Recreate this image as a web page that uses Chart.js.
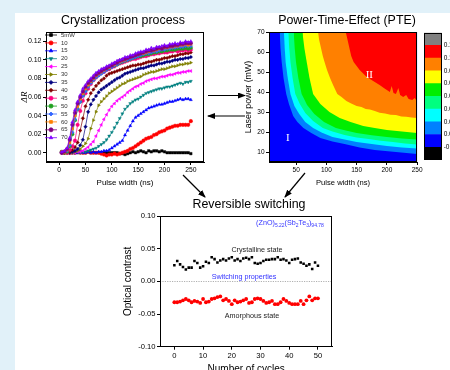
<!DOCTYPE html>
<html>
<head>
<meta charset="utf-8">
<script src="https://cdn.jsdelivr.net/npm/chart.js@4.4.0/dist/chart.umd.min.js"></script>
<style>
  html, body { margin: 0; padding: 0; width: 450px; height: 370px; overflow: hidden; background: #e1f1f9; }
  #panel { position: absolute; left: 15px; top: 13px; width: 435px; height: 357px; background: #fff; }
  canvas { position: absolute; }
  .t { position: absolute; font-family: "Liberation Sans", Arial, sans-serif; white-space: nowrap; transform: translate(-50%, -50%); line-height: 1; }
  .title { font-size: 12.4px; color: #000; }
  .note { font-size: 7.2px; color: #222; }
  .blue { color: #3333ff; }
  sub { font-size: 5px; vertical-align: -2px; }
  svg { position: absolute; left: 0; top: 0; pointer-events: none; }
</style>
</head>
<body>
<div id="panel"></div>
<canvas id="crystal" width="215" height="195" style="left:0;top:0"></canvas>
<canvas id="pte" width="209" height="195" style="left:215px;top:0"></canvas>
<canvas id="cbar" width="32" height="195" style="left:418px;top:0"></canvas>
<canvas id="switching" width="250" height="190" style="left:100px;top:195px"></canvas>

<div class="t title" style="left:123px;top:20px">Crystallization process</div>
<div class="t title" style="left:347px;top:20px">Power-Time-Effect (PTE)</div>
<div class="t title" style="left:249px;top:204px">Reversible switching</div>
<div class="t note blue" style="left:290px;top:223px">(ZnO)<sub>5.22</sub>(Sb<sub>2</sub>Te<sub>3</sub>)<sub>94.78</sub></div>
<div class="t note" style="left:257px;top:250px">Crystalline state</div>
<div class="t note blue" style="left:244px;top:277px">Switching properties</div>
<div class="t note" style="left:252px;top:316px">Amorphous state</div>

<svg width="450" height="370">
  <defs>
    <marker id="head" markerWidth="8" markerHeight="6" refX="7" refY="3" orient="auto" markerUnits="userSpaceOnUse">
      <path d="M0,0 L8,3 L0,6 Z" fill="#000"/>
    </marker>
  </defs>
  <g stroke="#000" stroke-width="1.2" marker-end="url(#head)">
    <line x1="208" y1="95.5" x2="245" y2="95.5"/>
    <line x1="245" y1="116" x2="208" y2="116"/>
    <line x1="183" y1="175" x2="205" y2="197"/>
    <line x1="305" y1="173" x2="285" y2="197"/>
  </g>
</svg>

<script>
Chart.defaults.font.family = '"Liberation Sans", Arial, sans-serif';
Chart.defaults.color = '#000';

// ---- Crystallization process data ----
const pulseWidths = [5, 10, 15, 20, 25, 30, 35, 40, 45, 50,
  55, 60, 65, 70, 75, 80, 85, 90, 95, 100,
  105, 110, 115, 120, 125, 130, 135, 140, 145, 150,
  155, 160, 165, 170, 175, 180, 185, 190, 195, 200,
  205, 210, 215, 220, 225, 230, 235, 240, 245, 250];
const powerLabels = ['5mW', '10', '15', '20', '25', '30', '35', '40', '45', '50', '55', '60', '65', '70'];

const dR5 = [0.001, 0, 0.001, 0, 0.001, 0, 0, 0.001, 0, 0,
  0.001, 0, 0, 0, 0, 0, 0, 0, 0, 0,
  0, 0, -0.001, -0.001, -0.002, -0.001, 0, 0.001, 0, 0.001,
  0.002, 0.001, 0, 0.002, 0.001, 0.002, 0.002, 0.001, 0.002, 0.001,
  0, 0, 0, 0, 0, 0, 0, 0, 0, -0.001];
const dR10 = [0, 0, 0.001, 0, 0, 0, 0.001, 0, 0, 0,
  0.001, 0, 0, 0, 0, -0.001, -0.002, -0.003, -0.002, -0.002,
  -0.001, -0.002, -0.001, 0, 0.001, 0.002, 0.004, 0.005, 0.007, 0.009,
  0.011, 0.013, 0.015, 0.016, 0.017, 0.019, 0.020, 0.022, 0.023, 0.024,
  0.026, 0.027, 0.028, 0.029, 0.029, 0.030, 0.030, 0.030, 0.030, 0.034];
const dR15 = [0, 0, 0, 0.001, 0, 0, 0, 0.001, 0, 0,
  0.001, 0, 0.001, 0, 0.001, 0.001, 0.002, 0.002, 0.003, 0.005,
  0.007, 0.009, 0.011, 0.013, 0.019, 0.024, 0.029, 0.034, 0.038, 0.040,
  0.042, 0.044, 0.046, 0.048, 0.049, 0.050, 0.051, 0.052, 0.052, 0.053,
  0.054, 0.055, 0.055, 0.056, 0.057, 0.058, 0.057, 0.058, 0.058, 0.057];
const dR20 = [0, 0, 0.001, 0, 0, 0, 0.001, 0, 0.001, 0.001,
  0.002, 0.003, 0.004, 0.005, 0.007, 0.009, 0.011, 0.014, 0.018, 0.022,
  0.027, 0.032, 0.037, 0.042, 0.047, 0.050, 0.053, 0.055, 0.057, 0.058,
  0.060, 0.062, 0.064, 0.065, 0.066, 0.067, 0.068, 0.069, 0.069, 0.070,
  0.071, 0.071, 0.072, 0.073, 0.074, 0.075, 0.074, 0.076, 0.076, 0.077];
const dR25 = [0, 0.001, 0, 0, 0, 0, 0.001, 0.001, 0.002, 0.004,
  0.006, 0.009, 0.012, 0.018, 0.024, 0.030, 0.036, 0.041, 0.046, 0.050,
  0.053, 0.056, 0.058, 0.060, 0.062, 0.065, 0.067, 0.069, 0.071, 0.072,
  0.074, 0.075, 0.077, 0.078, 0.079, 0.080, 0.080, 0.081, 0.082, 0.082,
  0.083, 0.084, 0.084, 0.085, 0.086, 0.086, 0.087, 0.087, 0.088, 0.088];
const dR30 = [0.001, 0, 0, 0, 0, 0.001, 0.002, 0.004, 0.007, 0.010,
  0.015, 0.026, 0.035, 0.044, 0.051, 0.055, 0.058, 0.061, 0.064, 0.066,
  0.068, 0.070, 0.072, 0.074, 0.075, 0.077, 0.078, 0.079, 0.080, 0.081,
  0.082, 0.084, 0.085, 0.086, 0.087, 0.087, 0.088, 0.089, 0.090, 0.090,
  0.091, 0.092, 0.093, 0.093, 0.094, 0.095, 0.095, 0.096, 0.096, 0.097];
const dR35 = [0, 0.001, 0, 0, 0.001, 0.002, 0.004, 0.008, 0.014, 0.028,
  0.044, 0.052, 0.057, 0.061, 0.065, 0.068, 0.070, 0.072, 0.074, 0.076,
  0.078, 0.080, 0.081, 0.083, 0.085, 0.086, 0.087, 0.088, 0.089, 0.090,
  0.091, 0.091, 0.092, 0.093, 0.094, 0.094, 0.095, 0.096, 0.096, 0.097,
  0.098, 0.098, 0.099, 0.100, 0.100, 0.101, 0.101, 0.102, 0.102, 0.103];
const dR40 = [0.001, 0, 0, 0.001, 0.003, 0.006, 0.011, 0.024, 0.037, 0.050,
  0.057, 0.064, 0.068, 0.072, 0.075, 0.078, 0.080, 0.083, 0.085, 0.086,
  0.087, 0.088, 0.089, 0.090, 0.091, 0.092, 0.093, 0.094, 0.094, 0.095,
  0.095, 0.096, 0.097, 0.098, 0.098, 0.099, 0.100, 0.100, 0.101, 0.102,
  0.102, 0.103, 0.104, 0.104, 0.105, 0.106, 0.106, 0.107, 0.107, 0.108];
const dR45 = [0, 0.001, 0, 0.003, 0.007, 0.013, 0.030, 0.045, 0.056, 0.064,
  0.069, 0.074, 0.078, 0.081, 0.084, 0.086, 0.087, 0.089, 0.090, 0.092,
  0.093, 0.095, 0.096, 0.097, 0.098, 0.099, 0.100, 0.101, 0.101, 0.102,
  0.103, 0.104, 0.104, 0.105, 0.106, 0.106, 0.107, 0.107, 0.108, 0.108,
  0.108, 0.109, 0.109, 0.110, 0.109, 0.110, 0.110, 0.111, 0.110, 0.111];
const dR50 = [0.001, 0, 0.001, 0.007, 0.020, 0.035, 0.047, 0.055, 0.062, 0.067,
  0.072, 0.076, 0.079, 0.082, 0.084, 0.086, 0.088, 0.090, 0.091, 0.093,
  0.094, 0.095, 0.097, 0.098, 0.099, 0.100, 0.101, 0.102, 0.103, 0.104,
  0.104, 0.105, 0.106, 0.106, 0.107, 0.108, 0.108, 0.109, 0.109, 0.110,
  0.110, 0.111, 0.111, 0.111, 0.112, 0.112, 0.112, 0.113, 0.112, 0.113];
const dR55 = [0, 0.001, 0.002, 0.008, 0.022, 0.036, 0.047, 0.055, 0.061, 0.066,
  0.071, 0.075, 0.078, 0.081, 0.083, 0.085, 0.087, 0.089, 0.091, 0.092,
  0.094, 0.095, 0.097, 0.098, 0.099, 0.100, 0.101, 0.102, 0.103, 0.104,
  0.105, 0.106, 0.107, 0.107, 0.108, 0.109, 0.109, 0.110, 0.111, 0.111,
  0.112, 0.112, 0.113, 0.113, 0.114, 0.114, 0.114, 0.115, 0.115, 0.115];
const dR60 = [0.001, 0, 0.003, 0.011, 0.026, 0.040, 0.050, 0.058, 0.064, 0.069,
  0.073, 0.077, 0.080, 0.083, 0.085, 0.087, 0.089, 0.091, 0.092, 0.094,
  0.095, 0.097, 0.098, 0.099, 0.100, 0.102, 0.103, 0.104, 0.105, 0.106,
  0.107, 0.107, 0.108, 0.109, 0.110, 0.110, 0.111, 0.112, 0.112, 0.113,
  0.113, 0.114, 0.114, 0.115, 0.115, 0.116, 0.116, 0.117, 0.116, 0.117];
const dR65 = [0, 0.001, 0.004, 0.014, 0.030, 0.043, 0.053, 0.060, 0.066, 0.071,
  0.075, 0.078, 0.081, 0.084, 0.086, 0.088, 0.090, 0.091, 0.093, 0.094,
  0.096, 0.097, 0.099, 0.100, 0.101, 0.102, 0.103, 0.104, 0.105, 0.106,
  0.107, 0.108, 0.109, 0.110, 0.110, 0.111, 0.112, 0.113, 0.112, 0.114,
  0.114, 0.115, 0.115, 0.116, 0.116, 0.117, 0.117, 0.118, 0.118, 0.118];
const dR70 = [0.001, 0.002, 0.005, 0.016, 0.033, 0.046, 0.055, 0.062, 0.069, 0.073,
  0.077, 0.080, 0.083, 0.086, 0.088, 0.090, 0.091, 0.093, 0.094, 0.096,
  0.097, 0.099, 0.100, 0.101, 0.103, 0.103, 0.105, 0.105, 0.107, 0.108,
  0.109, 0.109, 0.111, 0.111, 0.113, 0.112, 0.114, 0.114, 0.115, 0.116,
  0.115, 0.117, 0.117, 0.118, 0.117, 0.119, 0.118, 0.120, 0.119, 0.120];

const crystalTicksX = [0, 50, 100, 150, 200, 250];
const crystalTicksY = [0, 0.02, 0.04, 0.06, 0.08, 0.10, 0.12];

// ---- PTE contour boundaries: [pulse width (ns), laser power (mW)] ----
const edgeBlueAzure = [[22.7, 70], [24, 62], [26, 55], [29, 47], [33.5, 39], [38, 34], [45, 28], [52, 25], [62, 22], [75, 19.5], [90, 17], [110, 15.3], [130, 14], [155, 12.3], [180, 11], [215, 10], [250, 9]];
const edgeAzureCyan = [[29.7, 70], [31, 62], [32.5, 55], [36, 47], [40.5, 39], [47, 33], [55, 29], [65, 25], [78, 22], [92, 19.8], [110, 17.5], [130, 16.2], [150, 15], [175, 14], [200, 13], [225, 12.3], [250, 11.7]];
const edgeCyanSpring = [[36.8, 70], [38.5, 62], [40.5, 55], [44, 47], [48.5, 39], [56, 34], [65, 29.5], [78, 25.5], [94, 22], [110, 20.3], [130, 18.5], [150, 17.3], [170, 16.5], [190, 15.6], [210, 15], [230, 14.2], [250, 13.7]];
const edgeSpringGreen = [[45.8, 70], [47.5, 62], [49.6, 55], [53.5, 47], [59, 39], [68, 33.5], [80, 29], [96, 25], [115.7, 22], [132, 20.8], [150, 19.5], [175, 18.4], [200, 17.5], [225, 16.8], [250, 16.2]];
const edgeGreenYellow = [[60.3, 70], [63.5, 62], [67.4, 55], [72, 47], [78, 39], [90, 34], [105, 30], [122, 27], [140, 25], [161, 23], [180, 22], [200, 21], [225, 20.2], [250, 19.5]];
const edgeYellowOrange = [[86.1, 70], [88, 66], [91, 62], [94, 58], [96.9, 55], [101, 51], [106, 47], [111, 43.5], [118, 39], [125, 37.5], [133, 35.5], [141, 34.2], [150, 33], [158, 32.5], [165, 31.5], [172, 31.2], [180, 30.5], [188, 29.6], [197, 29.3], [206, 28.6], [215, 28.5], [224, 27.7], [232, 27.6], [241, 27.2], [250, 27]];
const edgeOrangeRed = [[132, 70], [135, 66], [138, 62], [141, 58], [145, 55], [150, 53], [155, 51], [160, 49.5], [165, 48], [172, 46.5], [180, 45], [188, 43.5], [195, 42], [200, 41], [205, 40], [208, 43], [211, 39.5], [215, 39], [219, 42], [222, 38.5], [227, 37.5], [232, 38.5], [236, 36.5], [242, 36], [246, 37], [250, 35.3]];

const pteTicksX = [50, 100, 150, 200, 250];
const pteTicksY = [10, 20, 30, 40, 50, 60, 70];
const regionLabels = [['I', 36, 17], ['II', 171, 48.5]];

// colour scale edges (bottom to top)
const colorLevels = [-0.02, -0.0045, 0.011, 0.0265, 0.042, 0.0575, 0.073, 0.0885, 0.104, 0.1195, 0.135];

// ---- Reversible switching data ----
const cycles = [0, 1, 2, 3, 4, 5, 6, 7, 8, 9, 10, 11, 12, 13, 14, 15, 16, 17, 18, 19, 20,
  21, 22, 23, 24, 25, 26, 27, 28, 29, 30, 31, 32, 33, 34, 35, 36, 37, 38, 39, 40,
  41, 42, 43, 44, 45, 46, 47, 48, 49, 50];
const crystalline = [0.0245, 0.031, 0.026, 0.022, 0.018, 0.021, 0.021, 0.031, 0.028, 0.021,
  0.023, 0.030, 0.028, 0.037, 0.034, 0.029, 0.032, 0.034, 0.032, 0.035,
  0.037, 0.032, 0.034, 0.031, 0.035, 0.036, 0.034, 0.037, 0.028, 0.027,
  0.028, 0.031, 0.033, 0.033, 0.034, 0.034, 0.037, 0.033, 0.034, 0.032,
  0.028, 0.033, 0.034, 0.035, 0.029, 0.027, 0.024, 0.026, 0.019, 0.029, 0.024];
const amorphous = [-0.032, -0.032, -0.031, -0.029, -0.027, -0.029, -0.032, -0.030, -0.031, -0.033,
  -0.027, -0.032, -0.031, -0.027, -0.026, -0.024, -0.023, -0.029, -0.027, -0.030,
  -0.035, -0.029, -0.032, -0.031, -0.029, -0.027, -0.033, -0.032, -0.027, -0.026,
  -0.027, -0.030, -0.033, -0.032, -0.030, -0.035, -0.035, -0.032, -0.027, -0.030,
  -0.033, -0.035, -0.035, -0.035, -0.030, -0.035, -0.029, -0.023, -0.029, -0.026, -0.026];
const switchTicksX = [0, 10, 20, 30, 40, 50];
const switchTicksY = [-0.10, -0.05, 0, 0.05, 0.10];

// ---- shared helpers ----
const framePlugin = {
  id: 'frame',
  afterDraw(chart) {
    const a = chart.chartArea, c = chart.ctx;
    c.save();
    c.strokeStyle = '#000';
    c.lineWidth = 1;
    c.strokeRect(Math.round(a.left) + 0.5, Math.round(a.top) + 0.5,
      Math.round(a.right - a.left) - 1, Math.round(a.bottom - a.top) - 1);
    c.restore();
  }
};

function fixedTicks(list) {
  return function (axis) { axis.ticks = list.map(v => ({ value: v })); };
}

function axisStyle(size) {
  return {
    grid: { display: true, drawOnChartArea: false, tickLength: 3, color: '#000', lineWidth: 1 },
    border: { display: true, color: '#000', width: 1 },
    ticks: { font: { size: size }, color: '#000', padding: 1.5, maxRotation: 0 }
  };
}

// ---- Crystallization process ----
const series = [dR5, dR10, dR15, dR20, dR25, dR30, dR35, dR40, dR45, dR50, dR55, dR60, dR65, dR70];
const seriesColors = ['#000000', '#ff0000', '#0000ff', '#008080', '#ff00ff', '#808000', '#000080',
  '#800000', '#ff0080', '#20a020', '#3366ff', '#ff8000', '#800080', '#8000ff'];
const seriesShapes = ['rect', 'circle', 'triangle', 'triangle', 'triangle', 'triangle', 'rectRot',
  'rectRot', 'circle', 'circle', 'rectRot', 'rect', 'circle', 'triangle'];
const seriesRot = [0, 0, 0, 180, -90, 90, 0, 0, 0, 0, 0, 0, 0, 0];

const crystalLegend = {
  id: 'crystalLegend',
  afterDraw(chart) {
    const c = chart.ctx;
    c.save();
    c.font = '6px "Liberation Sans", Arial, sans-serif';
    c.textBaseline = 'middle';
    chart.data.datasets.forEach((ds, i) => {
      const y = 35 + i * 7.9;
      c.strokeStyle = ds.borderColor;
      c.lineWidth = 0.8;
      c.beginPath(); c.moveTo(45, y); c.lineTo(57, y); c.stroke();
      c.fillStyle = ds.backgroundColor;
      if (Chart.helpers && Chart.helpers.drawPoint) {
        Chart.helpers.drawPoint(c, { pointStyle: ds.pointStyle, rotation: ds.pointRotation, radius: 2, borderWidth: 0.5 }, 51, y);
      } else {
        c.beginPath(); c.arc(51, y, 2, 0, Math.PI * 2); c.fill();
      }
      c.fillStyle = '#333';
      c.fillText(ds.label, 61, y);
    });
    c.restore();
  }
};

const crystalX = axisStyle(6.8);
const crystalY = axisStyle(7);
new Chart(document.getElementById('crystal'), {
  type: 'line',
  data: {
    datasets: series.map((s, i) => ({
      label: powerLabels[i],
      data: pulseWidths.map((x, j) => ({ x: x, y: s[j] })),
      borderColor: seriesColors[i],
      backgroundColor: seriesColors[i],
      borderWidth: 0.7,
      pointStyle: seriesShapes[i],
      pointRotation: seriesRot[i],
      pointRadius: 1.8,
      pointBorderWidth: 0.4,
      tension: 0,
      order: series.length - i
    }))
  },
  options: {
    responsive: false,
    animation: false,
    events: [],
    layout: { padding: { top: 32, left: 0, right: 11, bottom: 3 } },
    plugins: { legend: { display: false }, tooltip: { enabled: false } },
    scales: {
      x: Object.assign(crystalX, {
        type: 'linear', min: -25, max: 275,
        afterBuildTicks: fixedTicks(crystalTicksX),
        afterFit(s) { s.height = 30; },
        title: { display: true, text: 'Pulse width (ns)', font: { size: 8 }, padding: { top: 0, bottom: 4 } }
      }),
      y: Object.assign(crystalY, {
        min: -0.01, max: 0.13,
        afterBuildTicks: fixedTicks(crystalTicksY),
        afterFit(s) { s.width = 46; },
        ticks: Object.assign(crystalY.ticks, { callback: v => v.toFixed(2) }),
        title: { display: true, text: 'ΔR', font: { size: 9, family: '"Liberation Serif", serif', style: 'italic' }, padding: { top: 19.5, bottom: 0 } }
      })
    }
  },
  plugins: [framePlugin, crystalLegend]
});

// ---- Power-Time-Effect contour ----
const contourEdges = [edgeBlueAzure, edgeAzureCyan, edgeCyanSpring, edgeSpringGreen, edgeGreenYellow, edgeYellowOrange, edgeOrangeRed];
const contourColors = ['#0080ff', '#00ffff', '#00ff80', '#00ee00', '#ffff00', '#ff8000', '#ff0000'];

const pteDecor = {
  id: 'pteDecor',
  beforeDatasetsDraw(chart) {
    const a = chart.chartArea, c = chart.ctx;
    c.save();
    c.fillStyle = '#0000ff';
    c.fillRect(a.left, a.top, a.right - a.left, a.bottom - a.top);
    c.restore();
  },
  afterDatasetsDraw(chart) {
    const c = chart.ctx, xs = chart.scales.x, ys = chart.scales.y;
    c.save();
    c.fillStyle = '#fff';
    c.font = '11px "Liberation Serif", serif';
    c.textAlign = 'center';
    c.textBaseline = 'middle';
    regionLabels.forEach(r => c.fillText(r[0], xs.getPixelForValue(r[1]), ys.getPixelForValue(r[2])));
    c.restore();
  }
};

const pteX = axisStyle(6.5);
const pteY = axisStyle(6.5);
new Chart(document.getElementById('pte'), {
  type: 'line',
  data: {
    datasets: contourEdges.map((edge, i) => ({
      data: edge.map(p => ({ x: p[0], y: p[1] })),
      fill: 'end',
      backgroundColor: contourColors[i],
      borderColor: contourColors[i],
      borderWidth: 0,
      pointRadius: 0,
      tension: 0,
      order: contourEdges.length - i
    }))
  },
  options: {
    responsive: false,
    animation: false,
    events: [],
    layout: { padding: { top: 32, left: 0, right: 3, bottom: 3 } },
    plugins: { legend: { display: false }, tooltip: { enabled: false } },
    scales: {
      x: Object.assign(pteX, {
        type: 'linear', min: 5, max: 250,
        afterBuildTicks: fixedTicks(pteTicksX),
        afterFit(s) { s.height = 30; },
        title: { display: true, text: 'Pulse width (ns)', font: { size: 7.6 }, padding: { top: 0, bottom: 5 } }
      }),
      y: Object.assign(pteY, {
        min: 5, max: 70,
        afterBuildTicks: fixedTicks(pteTicksY),
        afterFit(s) { s.width = 54; },
        title: { display: true, text: 'Laser power (mW)', font: { size: 8.8 }, padding: { top: 28, bottom: 0 } }
      })
    }
  },
  plugins: [pteDecor, framePlugin]
});

// ---- colour scale (labels run off the right edge, as in the original) ----
const levelColors = ['#000000', '#0000ff', '#0080ff', '#00ffff', '#00ff80', '#00ee00', '#ffff00', '#ff8000', '#ff0000', '#808080'];
const cbarLabels = {
  id: 'cbarLabels',
  afterDraw(chart) {
    const c = chart.ctx, ys = chart.scales.y, a = chart.chartArea;
    c.save();
    c.fillStyle = '#000';
    c.font = '6.5px "Liberation Sans", Arial, sans-serif';
    c.textAlign = 'left';
    c.textBaseline = 'middle';
    colorLevels.slice(1, -1).forEach(v => c.fillText(v.toFixed(4), a.right + 2, ys.getPixelForValue(v)));
    c.restore();
  }
};
new Chart(document.getElementById('cbar'), {
  type: 'bar',
  data: {
    labels: [''],
    datasets: levelColors.map((col, i) => ({
      data: [[colorLevels[i], colorLevels[i + 1]]],
      backgroundColor: col,
      borderWidth: 0,
      barPercentage: 1,
      categoryPercentage: 1,
      grouped: false
    }))
  },
  options: {
    responsive: false,
    animation: false,
    events: [],
    layout: { padding: { top: 32.7, left: 6, right: 8.3, bottom: 35 } },
    plugins: { legend: { display: false }, tooltip: { enabled: false } },
    scales: {
      x: { display: false },
      y: { display: false, min: colorLevels[0], max: colorLevels[colorLevels.length - 1] }
    }
  },
  plugins: [framePlugin, cbarLabels]
});

// ---- Reversible switching ----
const zeroLine = {
  id: 'zeroLine',
  beforeDatasetsDraw(chart) {
    const a = chart.chartArea, c = chart.ctx;
    const y = Math.round(chart.scales.y.getPixelForValue(0)) + 0.5;
    c.save();
    c.strokeStyle = '#b0b0b0';
    c.lineWidth = 1;
    c.setLineDash([1.2, 1.2]);
    c.beginPath(); c.moveTo(a.left, y); c.lineTo(a.right, y); c.stroke();
    c.restore();
  }
};

const swX = axisStyle(7.6);
const swY = axisStyle(7.6);
new Chart(document.getElementById('switching'), {
  type: 'scatter',
  data: {
    datasets: [
      {
        label: 'Crystalline state',
        data: cycles.map((x, i) => ({ x: x, y: crystalline[i] })),
        pointStyle: 'rect', pointRadius: 1.8, borderWidth: 0,
        backgroundColor: '#000', borderColor: '#000'
      },
      {
        label: 'Amorphous state',
        data: cycles.map((x, i) => ({ x: x, y: amorphous[i] })),
        pointStyle: 'circle', pointRadius: 1.9, borderWidth: 0,
        backgroundColor: '#ff0000', borderColor: '#ff0000'
      }
    ]
  },
  options: {
    responsive: false,
    animation: false,
    events: [],
    layout: { padding: { top: 21, left: 0, right: 17.7, bottom: 8.3 } },
    plugins: { legend: { display: false }, tooltip: { enabled: false } },
    scales: {
      x: Object.assign(swX, {
        type: 'linear', min: -5, max: 55,
        afterBuildTicks: fixedTicks(switchTicksX),
        afterFit(s) { s.height = 30; },
        title: { display: true, text: 'Number of cycles', font: { size: 10 }, padding: { top: 0, bottom: 1.5 } }
      }),
      y: Object.assign(swY, {
        min: -0.10, max: 0.10,
        afterBuildTicks: fixedTicks(switchTicksY),
        afterFit(s) { s.width = 60; },
        ticks: Object.assign(swY.ticks, { callback: v => v.toFixed(2) }),
        title: { display: true, text: 'Optical contrast', font: { size: 10 }, padding: { top: 22, bottom: 0 } }
      })
    }
  },
  plugins: [zeroLine, framePlugin]
});
</script>
</body>
</html>
